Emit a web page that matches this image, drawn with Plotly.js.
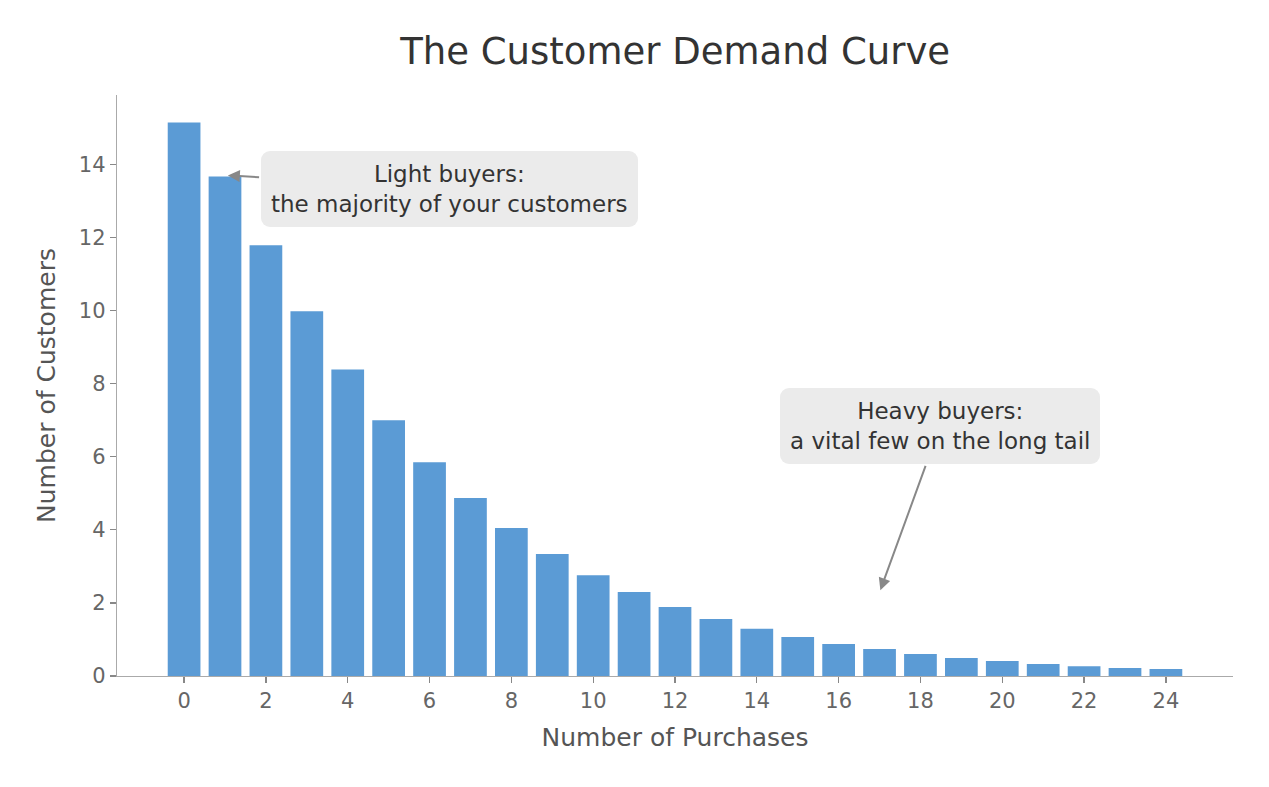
<!DOCTYPE html>
<html>
<head>
<meta charset="utf-8">
<script src="https://cdn.plot.ly/plotly-3.0.1.min.js"></script>
<style>html,body{margin:0;padding:0;background:#fff;}#chart{width:1269px;height:787px;}</style>
</head>
<body>
<div id="chart"></div>
<script>
const purchases = [0,1,2,3,4,5,6,7,8,9,10,11,12,13,14,15,16,17,18,19,20,21,22,23,24];
const customers = [15.15,13.67,11.79,9.98,8.39,7.0,5.85,4.87,4.05,3.34,2.76,2.30,1.89,1.56,1.29,1.07,0.875,0.74,0.60,0.49,0.41,0.33,0.27,0.22,0.19];
const xTicks = [0,2,4,6,8,10,12,14,16,18,20,22,24];
const yTicks = [0,2,4,6,8,10,12,14];
const titleText = "The Customer Demand Curve";
const xTitle = "Number of Purchases";
const yTitle = "Number of Customers";
const lightLabel = "Light buyers:<br>the majority of your customers";
const heavyLabel = "Heavy buyers:<br>a vital few on the long tail";

const font = "DejaVu Sans, sans-serif";
const trace = {
  type: 'bar', x: purchases, y: customers,
  width: 0.8,
  marker: {color: '#5b9bd5'},
  hoverinfo: 'x+y'
};
const annBase = {
  xref: 'x', yref: 'y', axref: 'x', ayref: 'y',
  showarrow: true, arrowhead: 2, arrowsize: 1.2, arrowwidth: 2, arrowcolor: '#888888',
  bgcolor: '#ebebeb', borderpad: 10, borderwidth: 0,
  font: {family: font, size: 23, color: '#333333'}, align: 'center', standoff: 0, startstandoff: 2
};
const layout = {
  width: 1269, height: 787,
  paper_bgcolor: '#ffffff', plot_bgcolor: '#ffffff',
  margin: {l: 117, r: 36, t: 95, b: 111},
  showlegend: false,
  title: {text: titleText, x: 0.532, xanchor: 'center', y: 0.935, yanchor: 'middle',
          font: {family: font, size: 37, color: '#333333'}},
  xaxis: {
    range: [-1.64, 25.64], tickvals: xTicks, ticktext: xTicks.map(String),
    showgrid: false, zeroline: false, showline: true, linecolor: '#aaaaaa', linewidth: 1.2,
    ticks: 'outside', ticklen: 6, tickcolor: '#888888', tickwidth: 1.2,
    tickfont: {family: font, size: 21, color: '#666666'},
    title: {text: xTitle, font: {family: font, size: 25, color: '#555555'}, standoff: 16}
  },
  yaxis: {
    range: [0, 15.9], tickvals: yTicks, ticktext: yTicks.map(String),
    showgrid: false, zeroline: false, showline: true, linecolor: '#aaaaaa', linewidth: 1.2,
    ticks: 'outside', ticklen: 6, tickcolor: '#888888', tickwidth: 1.2,
    tickfont: {family: font, size: 21, color: '#666666'},
    title: {text: yTitle, font: {family: font, size: 25, color: '#555555'}, standoff: 16}
  },
  annotations: [
    Object.assign({}, annBase, {text: lightLabel, x: 1.07, y: 13.7, ax: 6.49, ay: 13.34}),
    Object.assign({}, annBase, {text: heavyLabel, x: 17.02, y: 2.35, ax: 18.48, ay: 6.84})
  ]
};
Plotly.newPlot('chart', [trace], layout, {displayModeBar: false, staticPlot: true}).then(function(){
  document.querySelectorAll('.annotation rect.bg').forEach(function(r){ r.setAttribute('rx', 9); r.setAttribute('ry', 9); });
});
</script>
</body>
</html>
